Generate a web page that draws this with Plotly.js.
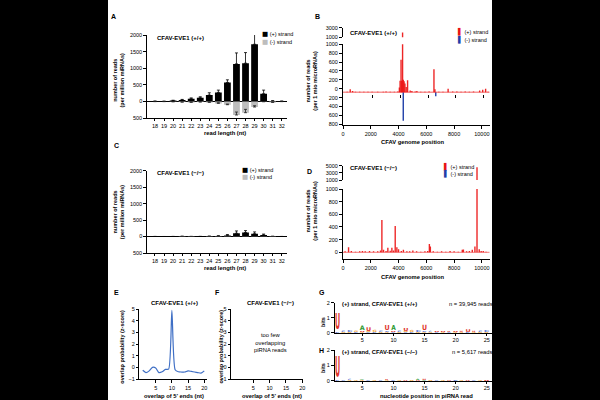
<!DOCTYPE html>
<html><head><meta charset="utf-8">
<script src="https://cdn.plot.ly/plotly-3.0.1.min.js"></script>
<style>html,body{margin:0;padding:0;background:#000;} #chart{width:600px;height:400px;}</style>
</head><body><div id="chart"></div>
<script>
// ---------------- data ----------------
const readLengths = [18,19,20,21,22,23,24,25,26,27,28,29,30,31,32];
const aPlus      = [5,3,25,45,80,110,190,270,570,1130,1150,1720,230,12,5];
const aPlusErr   = [5,3,10,15,25,30,70,70,80,330,320,350,110,10,5];
const aMinus     = [-5,-5,-10,-20,-30,-20,-30,-60,-100,-410,-340,-170,-10,-30,-5];
const aMinusErr  = [0,0,0,0,15,10,15,20,20,90,100,40,5,10,0];
const cPlus      = [2,1,2,6,3,3,8,15,35,100,120,85,50,5,2];
const cPlusErr   = [2,1,2,4,2,2,5,10,25,70,60,55,25,4,1];
const cMinus     = [-2,-2,-2,-3,-3,-2,-3,-5,-5,-8,-8,-6,-4,-3,-2];

const bPos  = [300,520,690,900,1200,1500,1800,2100,2500,2900,3100,3400,3700,3950,4060,4110,4180,4230,4290,4340,4400,4460,4550,4650,4840,4960,5200,5320,5600,5900,6200,6550,6620,6900,7200,7570,7900,8200,8500,8800,9100,9400,9840,10060,10270,10450];
const bPlus = [-65,-10,-50,-65,-68,-65,-66,-67,-68,-66,-60,-66,-65,-60,30,180,650,180,2000,200,170,120,40,190,-40,-50,-60,-50,-65,-66,-64,440,-10,-65,-66,0,-60,-64,-66,-62,-65,-64,-40,-20,0,-65];
const bMinusPos = [4340, 6680];
const bMinus    = [-720, -170];
const bBase = -80;   // baseline of panel B bars

const dPos  = [150,400,600,900,1200,1400,1600,1910,2200,2500,2700,2800,2920,3100,3230,3400,3520,3640,3760,3880,4000,4200,4350,4600,4800,5030,5300,5600,5900,6100,6220,6290,6500,6800,7100,7400,7710,8000,8300,8590,8670,8900,9100,9310,9500,9650,9810,9950,10100,10300];
const dPlus = [15,80,20,10,15,20,15,20,15,15,30,510,40,20,70,25,70,30,415,80,50,20,40,15,15,30,15,10,15,20,130,90,15,10,15,10,20,15,10,40,45,15,20,40,90,4550,50,20,20,10];

const genomeTicks = [0,2000,4000,6000,8000,10000];
const genomeTickText = ['0','2000','4000','6000','8000','10000'];

const overlapPos = [1,2,3,4,5,6,7,8,9,10,11,12,13,14,15,16,17,18,19,20];
const overlapZ   = [-0.25,-0.45,-0.3,0.0,-0.05,-0.45,-0.38,-0.17,-0.15,4.9,-0.2,-0.38,-0.4,-0.4,-0.3,-0.35,-0.4,-0.45,-0.5,-0.3];

const logoPos = [1,2,3,4,5,6,7,8,9,10,11,12,13,14,15,16,17,18,19,20,21,22,23,24,25];
const gStacks = ['CU','GC','GC','CG','GUA','CGU','CG','GC','GCU','CUA','GC','CGU','CG','GC','GCU','GC','CU','GU','CU','GU','GU','CU','GU','GC','GC'];
const gBits = [[0.05,1.05],[0.05,0.1],[0.05,0.14],[0.05,0.1],[0.04,0.06,0.3],[0.04,0.06,0.25],[0.05,0.15],[0.05,0.1],[0.04,0.06,0.33],[0.04,0.06,0.33],[0.05,0.1],[0.04,0.06,0.2],[0.05,0.14],[0.05,0.14],[0.04,0.06,0.35],[0.04,0.08],[0.04,0.06],[0.04,0.06],[0.04,0.07],[0.04,0.06],[0.04,0.08],[0.05,0.18],[0.04,0.08],[0.05,0.1],[0.05,0.14]];
const hStacks = ['CU','C','GC','G','GA','C','G','C','GU','C','G','U','G','UA','AU','G','C','G','U','C','G','U','C','G','U'];
const hBits = [[0.05,1.35],[0.04],[0.04,0.08],[0.04],[0.03,0.05],[0.04],[0.04],[0.04],[0.03,0.07],[0.04],[0.04],[0.05],[0.05],[0.05,0.08],[0.05,0.09],[0.05],[0.04],[0.04],[0.04],[0.06],[0.04],[0.05],[0.04],[0.04],[0.06]];

// ---------------- styling ----------------
const FONT = 'Liberation Sans, Arial, sans-serif';
const RED = 'rgba(236,20,20,0.92)', BLUE = '#1f3fa8', GRAY = '#bdbdbd';
const letterColors = {U:'#e0352b', A:'#2f9a35', C:'#3d5fd0', G:'#f2a22c'};
const X = px => px/600, Y = py => 1 - py/400;

const traces = [];
// Panel A
traces.push({type:'bar', x:readLengths, y:aPlus, xaxis:'x', yaxis:'y', marker:{color:'#000'}, width:0.75,
  error_y:{type:'data', symmetric:false, array:aPlusErr, arrayminus:aPlusErr.map(()=>0), color:'#000', thickness:0.8, width:1.5}});
traces.push({type:'bar', x:readLengths, y:aMinus, xaxis:'x', yaxis:'y', marker:{color:GRAY}, width:0.75,
  error_y:{type:'data', symmetric:false, array:aMinusErr, arrayminus:aMinusErr.map(()=>0), color:'#222', thickness:0.8, width:1.5}});
// Panel C
traces.push({type:'bar', x:readLengths, y:cPlus, xaxis:'x4', yaxis:'y4', marker:{color:'#000'}, width:0.75,
  error_y:{type:'data', symmetric:false, array:cPlusErr, arrayminus:cPlusErr.map(()=>0), color:'#000', thickness:0.8, width:1.5}});
traces.push({type:'bar', x:readLengths, y:cMinus, xaxis:'x4', yaxis:'y4', marker:{color:GRAY}, width:0.75});
// Panel B (lower and upper broken axis)
['y2','y3'].forEach(ya => {
  traces.push({type:'bar', x:bPos, y:bPlus.map(v=>v-bBase), base:bBase, xaxis:'x2', yaxis:ya, marker:{color:RED, line:{width:0}}, width:100});
});
traces.push({type:'bar', x:bMinusPos, y:bMinus.map(v=>v-bBase), base:bBase, xaxis:'x2', yaxis:'y2', marker:{color:BLUE, line:{width:0}}, width:100});
traces.push({type:'scatter', x:[], y:[], xaxis:'x3', yaxis:'y2'});
// Panel D
['y5','y6'].forEach(ya => {
  traces.push({type:'bar', x:dPos, y:dPlus, xaxis:'x5', yaxis:ya, marker:{color:RED, line:{width:0}}, width:100});
});
// Panel E
traces.push({type:'scatter', mode:'lines', x:overlapPos, y:overlapZ, xaxis:'x6', yaxis:'y7',
  line:{color:'#3f6fc5', width:1.2, shape:'spline', smoothing:0.6}});
// Panel F (empty)
traces.push({type:'scatter', x:[], y:[], xaxis:'x7', yaxis:'y8'});

// Logos
function logoTrace(stacks, bits, xa, ya, pxPerBit){
  const xs=[], ys=[], txt=[], sizes=[], cols=[];
  stacks.forEach((s,i)=>{
    let base=0;
    for(let k=0;k<s.length;k++){
      const h=bits[i][k];
      xs.push(logoPos[i]); ys.push(base+h/2); txt.push(s[k]);
      sizes.push(Math.max(1, h*pxPerBit/0.73)); cols.push(letterColors[s[k]]);
      base+=h;
    }
  });
  return {type:'scatter', mode:'text', x:xs, y:ys, text:txt, textposition:'middle center',
    textfont:{family:'DejaVu Sans', size:sizes, color:cols, weight:'bold'}, xaxis:xa, yaxis:ya,
    hoverinfo:'skip', cliponaxis:false, showlegend:false};
}
traces.push(logoTrace(gStacks, gBits, 'x8', 'y9', 15));
traces.push(logoTrace(hStacks, hBits, 'x9', 'y10', 15.3));

// ---------------- axes ----------------
const base = {showline:true, linecolor:'#000', linewidth:1, ticks:'outside', ticklen:3, tickwidth:1, tickcolor:'#000',
  showgrid:false, zeroline:false, tickfont:{family:FONT, size:5.5, color:'#000'}, fixedrange:true};
const ax = o => Object.assign({}, base, o);

const layout = {
  width:600, height:400, margin:{l:0,r:0,t:0,b:0}, paper_bgcolor:'#000', plot_bgcolor:'#fff',
  showlegend:false, barmode:'overlay', font:{family:FONT, color:'#000'},
  shapes:[
    {type:'rect', xref:'paper', yref:'paper', x0:X(108), x1:X(492), y0:0, y1:1, fillcolor:'#fff', line:{width:0}, layer:'below'},
    {type:'line', xref:'x2 domain', yref:'y2', x0:0, x1:1, y0:bBase, y1:bBase, line:{color:'rgba(236,20,20,0.45)', width:1.5}},
    {type:'line', xref:'x5 domain', yref:'y5', x0:0, x1:1, y0:0, y1:0, line:{color:'rgba(236,20,20,0.45)', width:1.2}}
  ],
  xaxis: ax({domain:[X(147.3),X(286.7)], range:[17.15,32.55], anchor:'y', tickvals:readLengths, ticklen:2}),
  yaxis: ax({domain:[Y(118),Y(35)], range:[-500,2000], anchor:'x', tickvals:[-500,0,500,1000,1500,2000], ticktext:['500','0','500','1000','1500','2000'], zeroline:true, zerolinecolor:'#000', zerolinewidth:1}),
  xaxis2: ax({domain:[X(343),X(489.5)], range:[0,10550], anchor:'y2', tickvals:genomeTicks, ticktext:genomeTickText}),
  yaxis2: ax({domain:[Y(125),Y(44.3)], range:[-815,1000], anchor:'x2', tickvals:[-800,-600,-400,-200,0,200,400,600,800,1000], ticktext:['800','600','400','200','0','200','400','600','800','1000']}),
  yaxis3: ax({domain:[Y(37.3),Y(27.7)], range:[1000,3000], anchor:'x2', tickvals:[1000,3000]}),
  xaxis3: ax({overlaying:'x2', anchor:'free', position:Y(93.8), range:[-130,10420], tickvals:[2000,4000,6000,8000,10000], showline:false, showticklabels:false, ticklen:3}),
  xaxis4: ax({domain:[X(147.3),X(286.7)], range:[17.15,32.55], anchor:'y4', tickvals:readLengths, ticklen:2}),
  yaxis4: ax({domain:[Y(253),Y(170.7)], range:[-500,2000], anchor:'x4', tickvals:[-500,0,500,1000,1500,2000], ticktext:['500','0','500','1000','1500','2000'], zeroline:true, zerolinecolor:'#000', zerolinewidth:1}),
  xaxis5: ax({domain:[X(343),X(489.5)], range:[0,10550], anchor:'y5', tickvals:genomeTicks, ticktext:genomeTickText}),
  yaxis5: ax({domain:[Y(259),Y(189)], range:[-106,1000], anchor:'x5', tickvals:[0,200,400,600,800,1000]}),
  yaxis6: ax({domain:[Y(180),Y(165.7)], range:[1000,5000], anchor:'x5', tickvals:[1000,3000,5000]}),
  xaxis6: ax({domain:[X(139),X(206.7)], range:[-0.15,20.75], anchor:'y7', tickvals:[5,10,15,20]}),
  yaxis7: ax({domain:[Y(379),Y(309.3)], range:[-1,5], anchor:'x6', tickvals:[-1,0,1,2,3,4,5], ticklen:2}),
  xaxis7: ax({domain:[X(230.7),X(303)], range:[-1.85,20.2], anchor:'y8', tickvals:[5,10,15,20]}),
  yaxis8: ax({domain:[Y(379),Y(309.3)], range:[-1,5], anchor:'x7', tickvals:[-1,0,1,2,3,4,5], ticklen:2}),
  xaxis8: ax({domain:[X(335),X(491.7)], range:[0.6,25.8], anchor:'y9', tickvals:[5,10,15,20,25], ticklen:2}),
  yaxis9: ax({domain:[Y(332.7),Y(302.7)], range:[0,2], anchor:'x8', tickvals:[0,1,2]}),
  xaxis9: ax({domain:[X(335),X(491.7)], range:[0.6,25.8], anchor:'y10', tickvals:[5,10,15,20,25], ticklen:2}),
  yaxis10: ax({domain:[Y(380.7),Y(350)], range:[0,2], anchor:'x9', tickvals:[0,1,2]}),
  annotations:[]
};

function note(text, px, py, opts){
  layout.annotations.push(Object.assign({text:text, xref:'paper', yref:'paper', x:X(px), y:Y(py), showarrow:false,
    xanchor:'center', yanchor:'middle', font:{family:FONT, size:5.5, color:'#000'}}, opts||{}));
}
const bold = (s,size)=>({font:{family:FONT, size:size, color:'#000', weight:'bold'}});
// panel letters
[['A',109.3,16],['B',313,16],['C',111.7,145],['D',305,171],['E',111.7,292.7],['F',213.3,292.7],['G',316.7,292.7],['H',316.7,350]]
  .forEach(([t,x,y])=>note(t,x,y,Object.assign({xanchor:'left'},bold(t,7))));
// panel titles
note('CFAV-EVE1 (+/+)',155,37.7,Object.assign({xanchor:'left'},bold('',6)));
note('CFAV-EVE1 (+/+)',348.3,32.7,Object.assign({xanchor:'left'},bold('',6)));
note('CFAV-EVE1 (\u2212/\u2212)',155,173.3,Object.assign({xanchor:'left'},bold('',6)));
note('CFAV-EVE1 (\u2212/\u2212)',348.3,167.7,Object.assign({xanchor:'left'},bold('',6)));
note('CFAV-EVE1 (+/+)',174,303.3,bold('',6));
note('CFAV-EVE1 (\u2212/\u2212)',270.8,303.3,bold('',6));
note('(+) strand, CFAV-EVE1 (+/+)',340,304,Object.assign({xanchor:'left'},bold('',5.8)));
note('n = 39,945 reads',446.7,304,{xanchor:'left', font:{family:FONT,size:5.8,color:'#000'}});
note('(+) strand, CFAV-EVE1 (\u2212/\u2212)',340,352.3,Object.assign({xanchor:'left'},bold('',5.8)));
note('n = 5,617 reads',450,352.3,{xanchor:'left', font:{family:FONT,size:5.8,color:'#000'}});
// legends
const sq = c => '<span style="font-family:DejaVu Sans;font-size:6.5px;color:'+c+'">\u25A0</span>';
const bar = c => '<span style="font-family:DejaVu Sans;font-size:6.5px;color:'+c+'">\u258C</span>';
note(sq('#000')+' (+) strand',260,34.3,{xanchor:'left'});
note(sq(GRAY)+' (-) strand',260,41.7,{xanchor:'left'});
note(sq('#000')+' (+) strand',240,170,{xanchor:'left'});
note(sq(GRAY)+' (-) strand',240,176.7,{xanchor:'left'});
note(bar('#e81414')+' (+) strand',455,31.7,{xanchor:'left'});
note(bar(BLUE)+' (-) strand',455,39,{xanchor:'left'});
note(bar('#e81414')+' (+) strand',441,166,{xanchor:'left'});
note(bar(BLUE)+' (-) strand',441,173.3,{xanchor:'left'});
// axis titles
note('read length (nt)',225,133.3,bold('',5.8));
note('read length (nt)',225,267.7,bold('',5.8));
note('CFAV genome position',412.5,141.7,bold('',5.8));
note('CFAV genome position',412.5,276.7,bold('',5.8));
note('overlap of 5\u2019 ends (nt)',174,396,bold('',5.8));
note('overlap of 5\u2019 ends (nt)',272,396,bold('',5.8));
note('nucleotide position in piRNA read',426,396,bold('',5.8));
note('number of reads<br>(per million miRNAs)',118.5,80,Object.assign({textangle:-90},bold('',5.5)));
note('number of reads<br>(per million miRNAs)',118.5,211.7,Object.assign({textangle:-90},bold('',5.5)));
note('number of reads<br>(per 1 mio microRNAs)',310.7,81,Object.assign({textangle:-90},bold('',5.5)));
note('number of reads<br>(per 1 mio microRNAs)',310.7,211,Object.assign({textangle:-90},bold('',5.5)));
note('overlap probability (z-score)',121.7,347,Object.assign({textangle:-90},bold('',5.5)));
note('overlap probability (z-score)',220.5,347,Object.assign({textangle:-90},bold('',5.5)));
note('bits',323,322,Object.assign({textangle:-90},bold('',5.5)));
note('bits',323,368,Object.assign({textangle:-90},bold('',5.5)));
note('too few<br>overlapping<br>piRNA reads',270,342,{font:{family:FONT,size:5.8,color:'#000'}});

Plotly.newPlot('chart', traces, layout, {staticPlot:true, displayModeBar:false}).then(gd=>{
  // squeeze logo letters to column width
  const target = 5.2;
  gd.querySelectorAll('.textpoint text').forEach(el=>{
    const ff = (el.style.fontFamily||'');
    if(ff.indexOf('DejaVu')<0) return;
    const bb = el.getBBox();
    if(!bb.width) return;
    const s = target/bb.width, cx = bb.x + bb.width/2;
    const prev = el.getAttribute('transform')||'';
    el.setAttribute('transform', prev+' translate('+cx+',0) scale('+s+',1) translate('+(-cx)+',0)');
  });
});
</script></body></html>
